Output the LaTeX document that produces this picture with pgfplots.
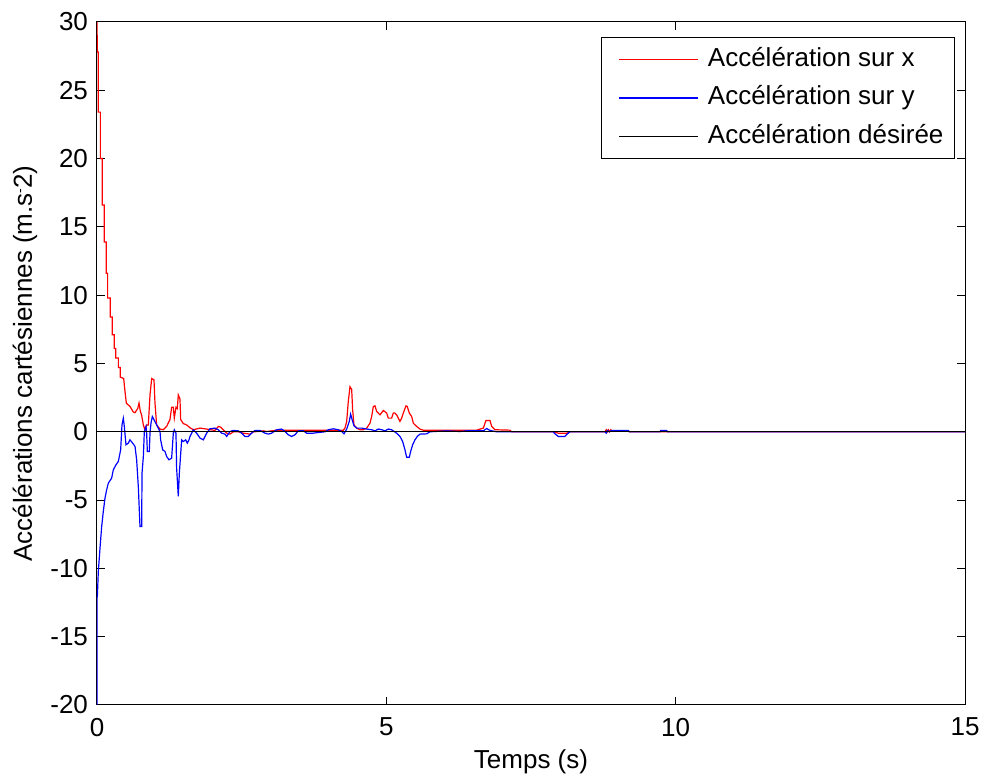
\documentclass[border=0pt]{standalone}
\usepackage{fontspec}
\setmainfont{Liberation Sans}
\usepackage{pgfplots}
\pgfplotsset{compat=1.18}
\usetikzlibrary{calc}
\newcommand{\fs}{\fontsize{13}{15.6}\selectfont}
\begin{document}
\fs
\begin{tikzpicture}
\begin{axis}[
  scale only axis, width=434pt, height=341.5pt,
  xmin=0, xmax=15, ymin=-20, ymax=30,
  xtick={0,5,10,15}, ytick={-20,-15,...,30},
  /pgf/number format/assume math mode=true,
  tick label style={font=\fs},
  label style={font=\fs},
  xticklabel style={yshift=-2pt},
  xlabel={Temps (s)},
  ylabel={Accélérations cartésiennes (m.s\raisebox{0.55ex}{\scriptsize -}2)},
  xlabel style={at={(axis description cs:0.5,-0.0835)}, anchor=center},
  ylabel style={at={(axis description cs:-0.083,0.5)}, anchor=center},
  major tick length=4pt,
  axis line style={line width=0.5pt},
  every tick/.style={black, line width=0.5pt},
  legend cell align=left,
  legend image code/.code={\path (0pt,0pt); \draw[#1] (3pt,0pt) -- (42.5pt,0pt);},
  legend style={at={(axis description cs:1,1)}, anchor=north east,
    xshift=-5pt, yshift=-7.5pt, draw=black, line width=0.5pt, font=\fs,
    inner xsep=5.5pt, inner ysep=4.5pt, nodes={inner sep=0pt, text height=10pt, text depth=3pt},
    row sep=6.25pt,
    /tikz/every odd column/.append style={column sep=4.5pt}},
]
\addplot[red, line width=0.6pt] coordinates {
(0,30)(0.006,27.8)(0.023,27.8)(0.023,23.4)(0.058,23.4)(0.058,20.0)(0.092,20.0)(0.092,16.6)
(0.127,16.6)(0.127,13.9)(0.161,13.9)(0.161,11.6)(0.184,11.6)(0.184,9.8)(0.230,9.8)(0.230,8.4)
(0.265,8.4)(0.265,7.1)(0.299,7.1)(0.299,6.1)(0.323,6.1)(0.323,5.4)(0.369,5.4)(0.369,4.7)
(0.403,4.7)(0.403,4.0)(0.461,3.9)(0.484,2.95)(0.507,2.1)(0.570,1.85)(0.628,1.45)(0.657,1.4)
(0.703,1.7)(0.726,2.1)(0.749,1.5)(0.772,1.2)(0.801,0.5)(0.829,0.15)(0.858,0.5)(0.887,0.5)
(0.916,2.7)(0.945,3.9)(0.985,3.8)(1.002,2.1)(1.031,0.5)(1.089,0.2)(1.146,0.15)(1.204,0.4)
(1.261,0.9)(1.290,1.8)(1.319,1.8)(1.336,1.0)(1.365,1.8)(1.388,1.7)(1.405,2.7)(1.434,2.4)
(1.446,0.9)(1.492,0.6)(1.549,0.5)(1.607,0.3)(1.665,0.15)(1.780,0.27)(1.895,0.2)(2.039,0.1)
(2.097,0.39)(2.137,0.34)(2.183,0.15)(2.241,-0.1)(2.298,-0.17)(2.356,0.0)(2.442,0.0)(2.528,-0.1)
(2.644,-0.17)(2.701,0.0)(2.788,0.02)(2.874,0.07)(2.932,0.02)(3.018,0.07)(3.105,0.12)(3.508,0.12)
(4.256,0.12)(4.285,0.27)(4.315,0.76)(4.342,2.2)(4.372,3.3)(4.401,3.1)(4.418,1.6)(4.441,0.5)
(4.488,0.27)(4.545,0.15)(4.603,0.15)(4.661,0.27)(4.717,0.63)(4.746,1.1)(4.775,1.85)(4.804,1.9)
(4.833,1.49)(4.890,1.24)(4.948,1.56)(5.006,1.37)(5.034,1.0)(5.092,1.0)(5.120,1.37)(5.149,1.37)
(5.178,1.24)(5.207,1.0)(5.236,0.76)(5.265,1.0)(5.293,1.37)(5.340,1.9)(5.362,1.85)(5.397,1.37)
(5.438,1.12)(5.466,0.63)(5.524,0.39)(5.581,0.2)(5.639,0.12)(6.561,0.12)(6.676,0.27)(6.722,0.83)
(6.791,0.83)(6.821,0.39)(6.878,0.15)(7.137,0.12)(7.166,0)(7.885,0)(7.972,-0.1)(8.116,-0.1)
(8.173,0)(8.778,0)(8.80,0.15)(8.82,0)(8.84,0.15)(8.86,0)(8.88,0.15)(8.894,0.05)(9.181,0.05)
(9.2,0)(15,0)
};
\addlegendentry{Accélération sur x}
\addplot[blue, line width=0.6pt] coordinates {
(0,-20)(0,-12.06)(0.006,-12.06)(0.023,-10.22)(0.052,-8.52)(0.081,-6.93)(0.109,-5.83)(0.138,-4.86)
(0.167,-4.25)(0.196,-3.76)(0.253,-3.39)(0.282,-2.78)(0.328,-2.42)(0.369,-2.17)(0.409,-1.32)(0.432,0.51)
(0.455,0.99)(0.472,0.39)(0.501,-0.95)(0.541,-0.83)(0.570,-0.59)(0.616,-0.83)(0.657,-1.07)(0.685,-2.05)
(0.714,-4.0)(0.743,-6.93)(0.772,-6.93)(0.778,-3.03)(0.801,-1.81)(0.818,0.02)(0.847,0.39)(0.858,-0.1)
(0.870,-1.44)(0.904,-1.44)(0.916,-0.1)(0.933,0.63)(0.956,1.12)(0.985,0.88)(1.031,0.51)(1.089,0.02)
(1.100,-0.59)(1.135,-1.32)(1.175,-1.44)(1.204,-1.81)(1.244,-2.05)(1.290,-1.93)(1.319,-0.1)(1.336,0.15)
(1.365,-0.1)(1.376,-2.66)(1.405,-4.73)(1.423,-3.03)(1.463,-0.59)(1.492,-0.71)(1.532,-0.59)(1.561,-0.83)
(1.590,-0.59)(1.607,-0.34)(1.665,0.15)(1.722,-0.1)(1.780,-0.46)(1.837,-0.59)(1.895,-0.1)(1.953,0.22)
(2.039,0.27)(2.097,0.15)(2.154,-0.1)(2.212,-0.17)(2.241,-0.34)(2.298,0.02)(2.356,0.1)(2.442,0.07)
(2.500,-0.1)(2.557,-0.34)(2.615,-0.34)(2.673,-0.1)(2.730,0.1)(2.817,0.1)(2.903,-0.1)(2.961,-0.17)
(3.018,-0.1)(3.105,0.15)(3.191,0.2)(3.249,0.02)(3.306,-0.22)(3.364,-0.34)(3.421,-0.22)(3.479,0.07)
(3.565,0.07)(3.623,-0.1)(3.738,-0.1)(3.824,-0.05)(3.940,0)(3.997,0.15)(4.084,0.22)(4.170,0.15)
(4.228,0.02)(4.268,-0.15)(4.315,0.2)(4.360,0.76)(4.383,1.29)(4.418,0.76)(4.441,0.44)(4.488,0.27)
(4.574,0.27)(4.661,0.2)(4.746,0.15)(4.804,0.07)(4.862,0.2)(4.919,0.15)(4.977,0.07)(5.034,0.2)
(5.092,0.15)(5.178,-0.1)(5.236,-0.34)(5.282,-0.71)(5.322,-1.32)(5.351,-1.86)(5.397,-1.86)(5.420,-1.44)
(5.455,-0.95)(5.495,-0.59)(5.535,-0.34)(5.581,-0.17)(5.697,-0.15)(5.754,0)(6.043,0.07)(6.273,0.02)
(6.388,0.07)(6.676,0.07)(6.734,0.24)(6.791,0.1)(6.907,0)(7.885,0)(7.914,-0.15)(7.972,-0.34)
(8.087,-0.34)(8.116,-0.2)(8.173,0)(8.778,0)(8.80,-0.1)(8.82,0.1)(8.85,0)(8.894,0.1)
(9.181,0.1)(9.2,0)(9.729,0)(9.74,0.1)(9.844,0.1)(9.86,0)(15,0)
};
\addlegendentry{Accélération sur y}
\addplot[black, line width=0.6pt] coordinates {(0,0)(15,0)};
\addlegendentry{Accélération désirée}
\end{axis}
\pgfresetboundingbox
\path[use as bounding box] ($(current axis.south west)+(-48.5pt,-37.5pt)$) rectangle ($(current axis.north east)+(10pt,11pt)$);
\end{tikzpicture}
\end{document}
